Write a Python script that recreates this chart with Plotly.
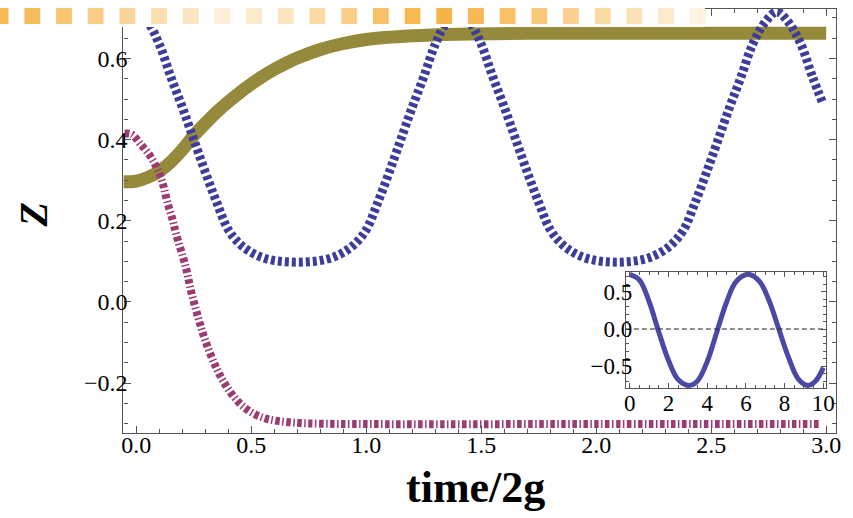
import plotly.graph_objects as go

# ---------------- data ----------------
blue_t = [-0.056, 0.0, 0.05, 0.10, 0.15, 0.20, 0.25, 0.30, 0.35, 0.40, 0.45, 0.50, 0.55, 0.60, 0.65, 0.70,
          0.75, 0.80, 0.85, 0.90, 0.95, 1.00, 1.05, 1.10, 1.15, 1.20, 1.25, 1.30, 1.35, 1.40,
          1.45, 1.50, 1.55, 1.60, 1.65, 1.70, 1.75, 1.80, 1.85, 1.90, 1.95, 2.00, 2.045, 2.09,
          2.135, 2.18, 2.23, 2.28, 2.33, 2.38, 2.43, 2.48, 2.53, 2.58, 2.63, 2.68, 2.735, 2.785,
          2.835, 2.89, 2.94, 2.985]
blue_z = [0.695, 0.715, 0.69, 0.635, 0.555, 0.48, 0.40, 0.32, 0.245, 0.178, 0.143, 0.122, 0.109, 0.102, 0.099, 0.098,
          0.099, 0.102, 0.109, 0.122, 0.143, 0.178, 0.245, 0.32, 0.40, 0.48, 0.555, 0.635, 0.69, 0.715,
          0.69, 0.635, 0.555, 0.48, 0.40, 0.32, 0.245, 0.178, 0.143, 0.122, 0.109, 0.102, 0.099, 0.098,
          0.099, 0.102, 0.109, 0.122, 0.143, 0.178, 0.245, 0.32, 0.40, 0.48, 0.555, 0.635, 0.69, 0.715,
          0.69, 0.635, 0.555, 0.49]

olive_t = [-0.056, 0.0, 0.05, 0.10, 0.15, 0.20, 0.25, 0.30, 0.35, 0.40, 0.45, 0.50, 0.55, 0.60, 0.65,
           0.70, 0.80, 0.90, 1.00, 1.20, 1.40, 1.70, 2.00, 2.50, 3.0]
olive_z = [0.296, 0.298, 0.307, 0.322, 0.345, 0.375, 0.41, 0.44, 0.468, 0.493, 0.516, 0.537, 0.556, 0.573, 0.588,
           0.601, 0.622, 0.637, 0.647, 0.656, 0.66, 0.662, 0.662, 0.662, 0.662]

purple_t = [-0.05, -0.02, 0.017, 0.06, 0.094, 0.116, 0.133, 0.159, 0.172, 0.215, 0.24, 0.27, 0.30,
            0.35, 0.40, 0.45, 0.50, 0.55, 0.60, 0.70, 0.80, 1.00, 2.00, 2.975]
purple_z = [0.415, 0.413, 0.39, 0.36, 0.325, 0.29, 0.25, 0.20, 0.17, 0.086, 0.022, -0.04, -0.095,
            -0.165, -0.215, -0.25, -0.272, -0.285, -0.292, -0.298, -0.30, -0.301, -0.301, -0.301]

inset_t = [0, 0.5, 1.0, 1.5, 2.0, 2.5, 3.05, 3.5, 4.0, 4.5, 5.0, 5.5, 6.15, 6.7, 7.2, 7.7,
           8.2, 8.7, 9.2, 9.6, 10.0]
inset_z = [0.735, 0.66, 0.37, -0.04, -0.42, -0.68, -0.76, -0.70, -0.44, -0.04, 0.36, 0.64, 0.735,
           0.64, 0.38, 0.0, -0.38, -0.67, -0.76, -0.70, -0.52]

main_xticks = [0.0, 0.5, 1.0, 1.5, 2.0, 2.5, 3.0]
main_yticks = [-0.2, 0.0, 0.2, 0.4, 0.6]
inset_xticks = [0, 2, 4, 6, 8, 10]
inset_yticks = [-0.5, 0.0, 0.5]

# opacity of the orange squares in the band across the top
band_alpha = [0.85, 0.8, 0.7, 0.6, 0.5, 0.4, 0.3, 0.2, 0.25, 0.3, 0.45, 0.6, 0.75, 0.85,
              0.9, 0.85, 0.75, 0.65, 0.55, 0.45, 0.35, 0.25, 0.15]

# ---------------- styling ----------------
W, H = 853, 518
SERIF = "Liberation Serif, Times New Roman, serif"
FRAME = "#555555"
BLUE = "#3c3c9c"
OLIVE = "#958a3b"
PURPLE = "#9c3a72"
INSET_BLUE = "#4a4aa6"

fig = go.Figure()

fig.add_trace(go.Scatter(x=olive_t, y=olive_z, mode="lines", line=dict(color=OLIVE, width=13, shape="spline"),
                         xaxis="x", yaxis="y", hoverinfo="skip"))
fig.add_trace(go.Scatter(x=purple_t, y=purple_z, mode="lines",
                         line=dict(color=PURPLE, width=8, shape="spline", dash="4.5px,2.5px,1.5px,2.5px"),
                         xaxis="x", yaxis="y", hoverinfo="skip"))
fig.add_trace(go.Scatter(x=blue_t, y=blue_z, mode="lines",
                         line=dict(color=BLUE, width=9, shape="spline", dash="4px,3px"),
                         xaxis="x", yaxis="y", hoverinfo="skip"))
fig.add_trace(go.Scatter(x=inset_t, y=inset_z, mode="lines", line=dict(color=INSET_BLUE, width=5, shape="spline"),
                         xaxis="x2", yaxis="y2", hoverinfo="skip"))

axis_common = dict(showline=True, linecolor=FRAME, linewidth=1.2, mirror="allticks", ticks="inside",
                   tickcolor=FRAME, showgrid=False, zeroline=False)
main_font = dict(family=SERIF, size=24, color="black")
inset_font = dict(family=SERIF, size=23, color="black")

fig.update_layout(
    width=W, height=H, margin=dict(l=0, r=0, t=0, b=0),
    paper_bgcolor="white", plot_bgcolor="rgba(0,0,0,0)", showlegend=False,
    xaxis=dict(domain=[123 / W, 845 / W], range=[-0.056, 3.043], tickvals=main_xticks, tickformat=".1f",
               ticklen=7, minor=dict(dtick=0.1, ticklen=4, ticks="inside", tickcolor=FRAME, showgrid=False),
               anchor="y", tickfont=main_font, ticklabelstandoff=-10, **axis_common),
    yaxis=dict(domain=[1 - 433 / H, 1 - 9 / H], range=[-0.323, 0.722], tickvals=main_yticks, tickformat=".1f",
               ticklen=7, minor=dict(dtick=0.05, ticklen=4, ticks="inside", tickcolor=FRAME, showgrid=False),
               anchor="x", tickfont=main_font, ticklabelstandoff=-10, **axis_common),
    xaxis2=dict(domain=[632 / W, 835 / W], range=[-0.2, 10.15], tickvals=inset_xticks, tickformat="d",
                ticklen=5, minor=dict(dtick=0.5, ticklen=3, ticks="inside", tickcolor=FRAME, showgrid=False),
                anchor="y2", tickfont=inset_font, ticklabelstandoff=-6, **axis_common),
    yaxis2=dict(domain=[1 - 388 / H, 1 - 272 / H], range=[-0.794, 0.767], tickvals=inset_yticks, tickformat=".1f",
                ticklen=5, minor=dict(dtick=0.1, ticklen=3, ticks="inside", tickcolor=FRAME, showgrid=False),
                anchor="x2", tickfont=inset_font, ticklabelstandoff=-12, **axis_common),
)

# dashed zero line in the inset
fig.add_shape(type="line", xref="x2 domain", yref="y2", x0=0, x1=1, y0=0, y1=0,
              line=dict(color="#222222", width=1.2, dash="5px,3px"), layer="above")

# white band with the faded orange squares across the top
fig.add_shape(type="rect", xref="paper", yref="paper", x0=0, x1=712 / W, y0=1 - 27 / H, y1=1.01,
              fillcolor="white", line=dict(width=0), layer="above")
pitch, size, first_center = 32.1, 16, -1.4
for i, a in enumerate(band_alpha):
    cx = first_center + i * pitch
    fig.add_shape(type="rect", xref="paper", yref="paper",
                  x0=(cx - size / 2) / W, x1=(cx + size / 2) / W,
                  y0=1 - 24 / H, y1=1 - 8 / H,
                  fillcolor=f"rgba(245,172,52,{a})", line=dict(width=0), layer="above")

# axis titles
fig.add_annotation(text="<b><i>Z</i></b>", xref="paper", yref="paper", x=8 / W, y=1 - 215 / H,
                   textangle=-90, showarrow=False, font=dict(family=SERIF, size=40, color="black"))
fig.add_annotation(text="<b>time/2g</b>", xref="paper", yref="paper", x=480 / W, y=1 - 514 / H,
                   showarrow=False, font=dict(family=SERIF, size=44, color="black"))

fig.write_html("out.html")
